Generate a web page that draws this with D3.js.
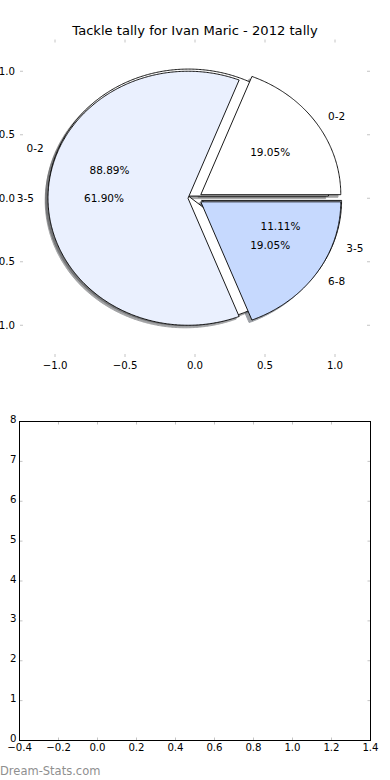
<!DOCTYPE html>
<html><head><meta charset="utf-8">
<script src="https://cdn.jsdelivr.net/npm/d3@7"></script>
<style>
html,body{margin:0;padding:0;background:#fff;}
svg{display:block;font-family:"DejaVu Sans",sans-serif;}
</style></head>
<body><svg id="c" width="390" height="780"></svg>
<script>
// ---- data ----
const title = "Tackle tally for Ivan Maric - 2012 tally";
const categoriesA = ["0-2", "3-5"];
const valuesA = [8, 1];
const categoriesB = ["0-2", "3-5", "6-8"];
const valuesB = [4, 13, 4];
const wedgeColors = ["#FFFFFF", "#EAF0FE", "#C6D9FE"];
const explodeA = [0.05, 0.05];
const explodeB = [0.05, 0.05, 0.05];
const pieTicks = [-1.0, -0.5, 0.0, 0.5, 1.0];
const barXTicks = [-0.4, -0.2, 0.0, 0.2, 0.4, 0.6, 0.8, 1.0, 1.2, 1.4];
const barYTicks = [0, 1, 2, 3, 4, 5, 6, 7, 8];
const watermark = "Dream-Stats.com";

const svg = d3.select("#c");
const fmtTick = v => d3.format(".1f")(v).replace("-", "\u2212");

// ---- top (pie) axes ----
const P = {l: 20, r: 370, t: 39.5, b: 357};
const px = d3.scaleLinear().domain([-1.25, 1.25]).range([P.l, P.r]);
const py = d3.scaleLinear().domain([-1.25, 1.25]).range([P.b, P.t]);

svg.append("text").attr("x", 195).attr("y", 30).attr("text-anchor", "middle")
  .attr("dominant-baseline", "central").attr("font-size", 13.1).text(title);

const tickCol = "#c4c4c4";
const gT = svg.append("g");
pieTicks.forEach(v => {
  gT.append("line").attr("x1", px(v)).attr("x2", px(v)).attr("y1", P.t).attr("y2", P.t + 3).attr("stroke", tickCol);
  gT.append("line").attr("x1", px(v)).attr("x2", px(v)).attr("y1", P.b).attr("y2", P.b - 3).attr("stroke", tickCol);
  gT.append("line").attr("y1", py(v)).attr("y2", py(v)).attr("x1", P.l).attr("x2", P.l + 3).attr("stroke", tickCol);
  gT.append("line").attr("y1", py(v)).attr("y2", py(v)).attr("x1", P.r).attr("x2", P.r - 3).attr("stroke", tickCol);
  gT.append("text").attr("x", px(v)).attr("y", P.b + 8).attr("text-anchor", "middle")
    .attr("dominant-baseline", "central").attr("font-size", 10.2).text(fmtTick(v));
  gT.append("text").attr("x", P.l - 5).attr("y", py(v)).attr("text-anchor", "end")
    .attr("dominant-baseline", "central").attr("font-size", 10.2).text(fmtTick(v));
});

function buildPie(values, cats, explode) {
  const arcs = d3.pie().sort(null).startAngle(0).endAngle(2 * Math.PI)(values);
  return arcs.map((a, i) => {
    const t1 = a.startAngle, t2 = a.endAngle, tm = (t1 + t2) / 2;
    const cx = explode[i] * Math.cos(tm), cy = explode[i] * Math.sin(tm);
    return {t1, t2, tm, cx, cy, color: wedgeColors[i % wedgeColors.length],
      label: cats[i], pct: d3.format(".2f")(100 * (t2 - t1) / (2 * Math.PI)) + "%"};
  });
}
function wedgePath(w, dx, dy) {
  const n = Math.max(8, Math.ceil((w.t2 - w.t1) / 0.01));
  const pts = [[w.cx + dx, w.cy + dy]];
  for (let k = 0; k <= n; k++) {
    const t = w.t1 + (w.t2 - w.t1) * k / n;
    pts.push([w.cx + dx + Math.cos(t), w.cy + dy + Math.sin(t)]);
  }
  return d3.line().x(d => px(d[0])).y(d => py(d[1]))(pts) + "Z";
}
function shade(c) {
  const r = d3.rgb(c);
  return d3.rgb(r.r * 0.3, r.g * 0.3, r.b * 0.3).toString();
}
const pieA = buildPie(valuesA, categoriesA, explodeA);
const pieB = buildPie(valuesB, categoriesB, explodeB);
const all = pieA.concat(pieB);
const gP = svg.append("g");
// shadows first (lower z-order)
all.forEach(w => {
  gP.append("path").attr("d", wedgePath(w, -0.02, -0.02))
    .attr("fill", shade(w.color)).attr("stroke", shade(w.color)).attr("stroke-width", 1)
    .attr("opacity", 0.5);
});
all.forEach(w => {
  gP.append("path").attr("d", wedgePath(w, 0, 0))
    .attr("fill", w.color).attr("stroke", "#000").attr("stroke-width", 0.9)
    .attr("stroke-linejoin", "miter");
});
all.forEach(w => {
  const lx = w.cx + 1.1 * Math.cos(w.tm), ly = w.cy + 1.1 * Math.sin(w.tm);
  gP.append("text").attr("x", px(lx)).attr("y", py(ly))
    .attr("text-anchor", lx > 0 ? "start" : "end").attr("dominant-baseline", "central")
    .attr("font-size", 10.5).text(w.label);
  const tx = w.cx + 0.6 * Math.cos(w.tm), ty = w.cy + 0.6 * Math.sin(w.tm);
  gP.append("text").attr("x", px(tx)).attr("y", py(ty))
    .attr("text-anchor", "middle").attr("dominant-baseline", "central")
    .attr("font-size", 10.5).text(w.pct);
});

// ---- bottom (empty) axes ----
const B = {l: 19.5, r: 370.5, t: 421.5, b: 740.5};
const bx = d3.scaleLinear().domain([-0.4, 1.4]).range([B.l, B.r]);
const by = d3.scaleLinear().domain([0, 8]).range([B.b, B.t]);
const gB = svg.append("g");
barXTicks.forEach(v => {
  gB.append("line").attr("x1", bx(v)).attr("x2", bx(v)).attr("y1", B.t).attr("y2", B.t + 3).attr("stroke", tickCol);
  gB.append("line").attr("x1", bx(v)).attr("x2", bx(v)).attr("y1", B.b).attr("y2", B.b - 3).attr("stroke", tickCol);
  gB.append("text").attr("x", bx(v)).attr("y", B.b + 7).attr("text-anchor", "middle")
    .attr("dominant-baseline", "central").attr("font-size", 10.2).text(fmtTick(v));
});
barYTicks.forEach(v => {
  gB.append("line").attr("y1", by(v)).attr("y2", by(v)).attr("x1", B.l).attr("x2", B.l + 3).attr("stroke", tickCol);
  gB.append("line").attr("y1", by(v)).attr("y2", by(v)).attr("x1", B.r).attr("x2", B.r - 3).attr("stroke", tickCol);
  gB.append("text").attr("x", B.l - 3).attr("y", by(v) - 2).attr("text-anchor", "end")
    .attr("dominant-baseline", "central").attr("font-size", 10.2).text(String(v));
});
gB.append("rect").attr("x", B.l).attr("y", B.t).attr("width", B.r - B.l).attr("height", B.b - B.t)
  .attr("fill", "none").attr("stroke", "#000").attr("stroke-width", 1);

svg.append("text").attr("x", 0).attr("y", 770.5).attr("dominant-baseline", "central")
  .attr("font-size", 11.5).attr("fill", "#8f8f8f").text(watermark);
</script></body></html>
